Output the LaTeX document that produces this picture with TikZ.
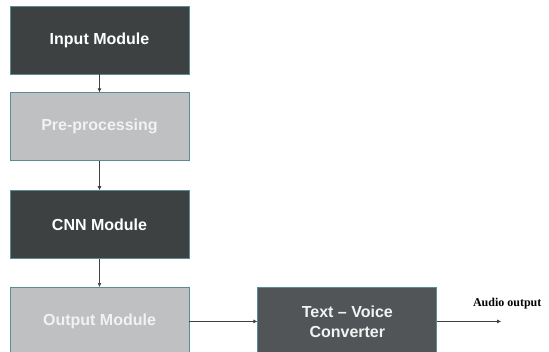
\documentclass[tikz,border=0pt]{standalone}
\usepackage{fontspec}
\setmainfont{Liberation Sans}
\newfontfamily\serifbold{Liberation Serif}
\usetikzlibrary{positioning,arrows.meta}
\definecolor{darkbox}{HTML}{3D4142}
\definecolor{lightbox}{HTML}{BEC0C1}
\definecolor{convbox}{HTML}{525557}
\definecolor{edgeteal}{HTML}{5A8C96}
\definecolor{lighttext}{HTML}{F2F2F2}
\definecolor{linegray}{HTML}{404040}

\begin{document}
\begin{tikzpicture}[x=1pt,y=1pt,
  block/.style={draw=edgeteal,line width=0.8pt,minimum width=179pt,minimum height=68pt,
    inner sep=0pt,font=\fontsize{16}{20}\selectfont\bfseries,align=center},
  darkblock/.style={block,fill=darkbox,text=white},
  lightblock/.style={block,fill=lightbox,text=lighttext},
  convblock/.style={block,fill=convbox,text=lighttext},
  link/.style={draw=linegray,line width=0.7pt,-{Latex[length=4pt,width=4pt]}}]
  \useasboundingbox[fill=white] (0,0) rectangle (549,-351);
  \node[darkblock] (input) at (99.5,-40) {Input Module};
  \node[lightblock,below=18pt of input] (prep) {Pre-processing};
  \node[darkblock,below=29pt of prep] (cnn) {CNN Module};
  \node[lightblock,below=28pt of cnn] (output) {Output Module};
  \node[convblock,right=68pt of output] (conv) {Text -- Voice\\Converter};
  \coordinate[right=64pt of conv] (audio);
  \draw[link] (input) -- (prep);
  \draw[link] (prep) -- (cnn);
  \draw[link] (cnn) -- (output);
  \draw[link] (output) -- (conv);
  \draw[link] (conv) -- (audio);
  \node[font=\serifbold\fontsize{12}{14}\selectfont\bfseries,above=9pt of audio,xshift=6pt] (audiolbl) {Audio output};
\end{tikzpicture}
\end{document}
